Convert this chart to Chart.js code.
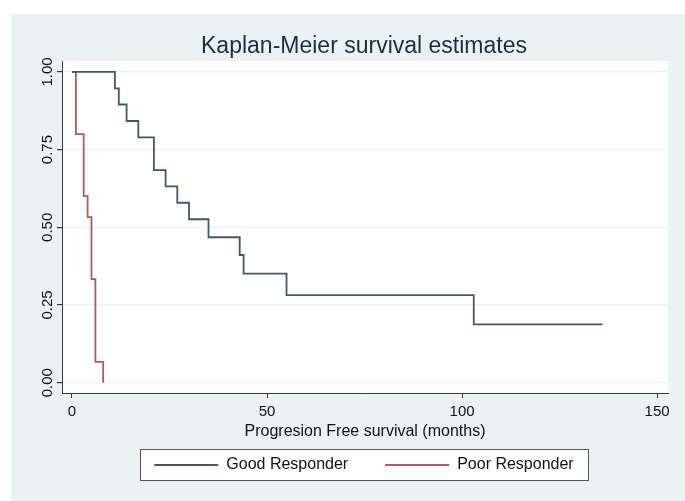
<!DOCTYPE html>
<html>
<head>
<meta charset="utf-8">
<script src="https://cdn.jsdelivr.net/npm/chart.js@4/dist/chart.umd.min.js"></script>
<style>
  html, body { margin: 0; padding: 0; background: #ffffff; }
  #wrap { width: 685px; height: 501px; }
</style>
</head>
<body>
<div id="wrap"><canvas id="kmChart" width="685" height="501"></canvas></div>
<script>
// Kaplan-Meier step data (time in months, survival)
const goodTimes = [0, 11, 12, 14, 17, 21, 24, 27, 30, 35, 43, 44, 55, 103, 136];
const goodSurv  = [1, 0.947, 0.895, 0.842, 0.789, 0.684, 0.632, 0.579, 0.526, 0.468, 0.411, 0.351, 0.282, 0.188, 0.188];
const poorTimes = [0, 1, 3, 4, 5, 6, 8];
const poorSurv  = [1, 0.80, 0.60, 0.533, 0.333, 0.067, 0];

const xTicks = [0, 50, 100, 150];
const yTicks = [0, 0.25, 0.5, 0.75, 1];
const seriesLabels = ['Good Responder', 'Poor Responder'];

const colors = {
    good: '#3e596b',
    poor: '#b05a60',
    axis: '#3a3a3a',
    grid: '#eaf2f3',
    region: '#eaf2f3',
    title: '#1e2c45'
};

const fontFamily = '"Liberation Sans", Arial, Helvetica, sans-serif';

function toPoints(times, surv) {
    return times.map((t, i) => ({ x: t, y: surv[i] }));
}

// backgrounds and the framed legend box, Stata style
const stataBackground = {
    id: 'stataBackground',
    beforeDraw(chart) {
        const ctx = chart.ctx;
        const area = chart.chartArea;
        ctx.save();
        ctx.fillStyle = '#ffffff';
        ctx.fillRect(0, 0, chart.width, chart.height);
        ctx.fillStyle = colors.region;
        ctx.fillRect(11, 14, chart.width - 11, chart.height - 14);
        ctx.fillStyle = '#ffffff';
        ctx.fillRect(area.left, area.top, area.right - area.left, area.bottom - area.top);

        const boxes = chart.legend.legendHitBoxes;
        if (boxes && boxes.length) {
            const first = boxes[0];
            const last = boxes[boxes.length - 1];
            const cy = first.top + first.height / 2;
            const cx = (first.left + last.left + last.width) / 2;
            const half = (last.left + last.width - first.left) / 2 + 14;
            const left = Math.round(cx - half) + 0.5;
            const right = Math.round(cx + half) + 0.5;
            const top = Math.round(cy - 16) + 0.5;
            const bottom = Math.round(cy + 15) + 0.5;
            ctx.fillStyle = '#ffffff';
            ctx.fillRect(left, top, right - left, bottom - top);
            ctx.strokeStyle = '#555555';
            ctx.lineWidth = 1;
            ctx.strokeRect(left, top, right - left, bottom - top);
        }
        ctx.restore();
    }
};

const ctx = document.getElementById('kmChart').getContext('2d');
new Chart(ctx, {
    type: 'line',
    data: {
        datasets: [{
            label: seriesLabels[0],
            data: toPoints(goodTimes, goodSurv),
            borderColor: colors.good,
            backgroundColor: colors.good,
            borderWidth: 1.8,
            pointRadius: 0,
            stepped: 'before',
            fill: false
        }, {
            label: seriesLabels[1],
            data: toPoints(poorTimes, poorSurv),
            borderColor: colors.poor,
            backgroundColor: colors.poor,
            borderWidth: 1.8,
            pointRadius: 0,
            stepped: 'before',
            fill: false
        }]
    },
    options: {
        responsive: false,
        animation: false,
        layout: {
            padding: { left: 60, right: 17, top: 14, bottom: 18 }
        },
        plugins: {
            title: {
                display: true,
                text: 'Kaplan-Meier survival estimates',
                color: colors.title,
                font: { family: fontFamily, size: 23, weight: 'normal' },
                padding: { top: 19, bottom: 0.4 }
            },
            legend: {
                position: 'bottom',
                labels: {
                    color: '#111111',
                    font: { family: fontFamily, size: 16 },
                    boxWidth: 64,
                    boxHeight: 2,
                    padding: 37,
                    generateLabels: function(chart) {
                        return Chart.defaults.plugins.legend.labels.generateLabels(chart).map(item => {
                            item.lineWidth = 0;
                            item.fillStyle = item.strokeStyle;
                            return item;
                        });
                    }
                }
            },
            tooltip: { enabled: false }
        },
        scales: {
            x: {
                type: 'linear',
                min: -2.56,
                max: 152.8,
                afterFit: function(scale) { scale.height = 27; },
                afterBuildTicks: function(scale) {
                    scale.ticks = xTicks.map(v => ({ value: v }));
                },
                ticks: {
                    color: '#111111',
                    font: { family: fontFamily, size: 15 },
                    padding: 5,
                    maxRotation: 0
                },
                grid: {
                    drawOnChartArea: false,
                    tickLength: 5,
                    tickColor: colors.axis
                },
                border: { color: colors.axis, width: 1 },
                title: {
                    display: true,
                    text: 'Progresion Free survival (months)',
                    color: '#111111',
                    font: { family: fontFamily, size: 16 },
                    padding: { top: 0, bottom: -21 }
                }
            },
            y: {
                min: -0.033,
                max: 1.035,
                afterFit: function(scale) { scale.width = 2; },
                afterBuildTicks: function(scale) {
                    scale.ticks = yTicks.map(v => ({ value: v }));
                },
                ticks: {
                    color: '#111111',
                    font: { family: fontFamily, size: 15 },
                    minRotation: 90,
                    maxRotation: 90,
                    crossAlign: 'center',
                    // mirrored labels are not clipped to the thin scale box; the
                    // negative padding moves them back out to the left of the axis
                    mirror: true,
                    padding: -29,
                    callback: function(value) { return Number(value).toFixed(2); }
                },
                grid: {
                    color: colors.grid,
                    lineWidth: 1.2,
                    tickLength: 5,
                    tickColor: colors.axis
                },
                border: { color: colors.axis, width: 1 }
            }
        }
    },
    plugins: [stataBackground]
});
</script>
</body>
</html>
